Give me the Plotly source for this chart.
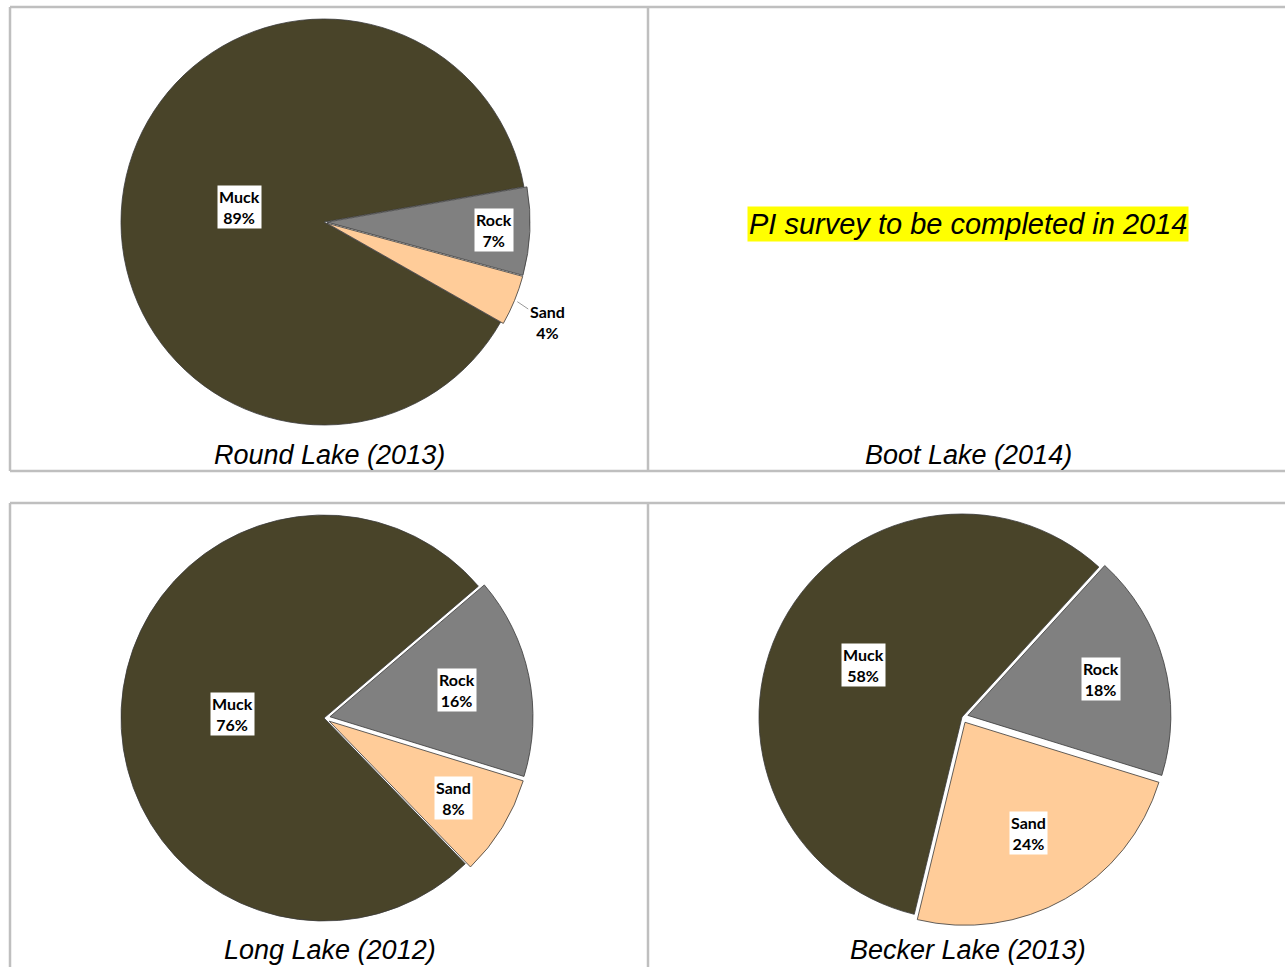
"""Bottom substrate composition pies for four lakes."""

import math

import plotly.graph_objects as go

W, H = 1285, 967

categories = ["Muck", "Rock", "Sand"]
colors = ["#494429", "#808080", "#FFCC99"]

round_lake = [89, 7, 4]
long_lake = [76, 16, 8]
becker_lake = [58, 18, 24]

titles = ["Round Lake (2013)", "Boot Lake (2014)", "Long Lake (2012)", "Becker Lake (2013)"]
boot_note = "PI survey to be completed in 2014"

RADIUS = 203

panels = [
    {"values": round_lake, "center": (324, 222), "rotation": 119.6,
     "pull": [0, 0.015, 0.015], "label_r": [0.42, 0.84, 1.2]},
    {"values": long_lake, "center": (324, 718), "rotation": 135.9,
     "pull": [0, 0.03, 0.03], "label_r": [0.45, 0.67, 0.75]},
    {"values": becker_lake, "center": (962, 717), "rotation": 193.6,
     "pull": [0, 0.03, 0.03], "label_r": [0.55, 0.71, 0.66]},
]

LABEL_FONT = {"family": "Lato, Calibri, sans-serif", "size": 16, "color": "black"}


def px(x, y):
    return x / W, 1 - y / H


fig = go.Figure()
annotations = []

for p in panels:
    cx, cy = p["center"]
    half = RADIUS * (1 + max(p["pull"]))
    x0, y0 = px(cx - half, cy + half)
    x1, y1 = px(cx + half, cy - half)
    fig.add_trace(
        go.Pie(
            labels=categories,
            values=p["values"],
            sort=False,
            direction="clockwise",
            rotation=p["rotation"],
            pull=p["pull"],
            marker={"colors": colors, "line": {"color": "#3a3a3a", "width": 0.8}},
            textinfo="none",
            hoverinfo="label+percent",
            showlegend=False,
            domain={"x": [x0, x1], "y": [y0, y1]},
        )
    )

    total = sum(p["values"])
    cum = 0
    for name, v, rf in zip(categories, p["values"], p["label_r"]):
        ang = math.radians(p["rotation"] + 360 * (cum + v / 2) / total)
        cum += v
        text = f"<b>{name}<br>{round(100 * v / total)}%</b>"
        lx = cx + rf * RADIUS * math.sin(ang)
        ly = cy - rf * RADIUS * math.cos(ang)
        if rf > 1:
            # label outside the slice, joined by a thin leader line
            tx = cx + 1.03 * RADIUS * math.sin(ang)
            ty = cy - 1.03 * RADIUS * math.cos(ang)
            ax, ay = px(tx, ty)
            annotations.append(dict(
                x=ax, y=ay, xref="paper", yref="paper", text=text,
                showarrow=True, arrowhead=0, arrowwidth=0.8, arrowcolor="#7f7f7f",
                ax=lx - tx - 2, ay=ly - ty + 7, bgcolor="white", borderpad=1,
                xanchor="center", yanchor="middle", font=LABEL_FONT,
            ))
        else:
            ax, ay = px(lx, ly)
            annotations.append(dict(
                x=ax, y=ay, xref="paper", yref="paper", text=text, showarrow=False,
                bgcolor="white", borderpad=1, xanchor="center", yanchor="middle",
                font=LABEL_FONT,
            ))

title_pos = [(330, 455), (968, 455), (330, 950), (968, 950)]
for t, (tx, ty) in zip(titles, title_pos):
    ax, ay = px(tx, ty)
    annotations.append(dict(
        x=ax, y=ay, xref="paper", yref="paper", text=f"<i>{t}</i>", showarrow=False,
        xanchor="center", yanchor="middle",
        font={"family": "Liberation Sans, Arial, sans-serif", "size": 27, "color": "black"},
    ))

nx, ny = px(968, 224)
annotations.append(dict(
    x=nx, y=ny, xref="paper", yref="paper", text=f"<i>{boot_note}</i>", showarrow=False,
    bgcolor="#FFFF00", borderpad=1, xanchor="center", yanchor="middle",
    font={"family": "Liberation Sans, Arial, sans-serif", "size": 29, "color": "black"},
))

frame = {"color": "#BFBFBF", "width": 2.5}
segments = [
    (10, 7, 1285, 7), (10, 471, 1285, 471), (10, 7, 10, 471), (648, 7, 648, 471),
    (10, 503, 1285, 503), (10, 503, 10, 967), (648, 503, 648, 967),
]
shapes = []
for sx0, sy0, sx1, sy1 in segments:
    a0, b0 = px(sx0, sy0)
    a1, b1 = px(sx1, sy1)
    shapes.append(dict(type="line", xref="paper", yref="paper",
                       x0=a0, y0=b0, x1=a1, y1=b1, line=frame, layer="below"))

fig.update_layout(
    width=W, height=H,
    margin={"l": 0, "r": 0, "t": 0, "b": 0},
    paper_bgcolor="white", plot_bgcolor="white",
    annotations=annotations, shapes=shapes,
)

fig.write_html(
    "out.html",
    config={"displayModeBar": False},
    post_script="document.body.style.margin = '0';",
)
